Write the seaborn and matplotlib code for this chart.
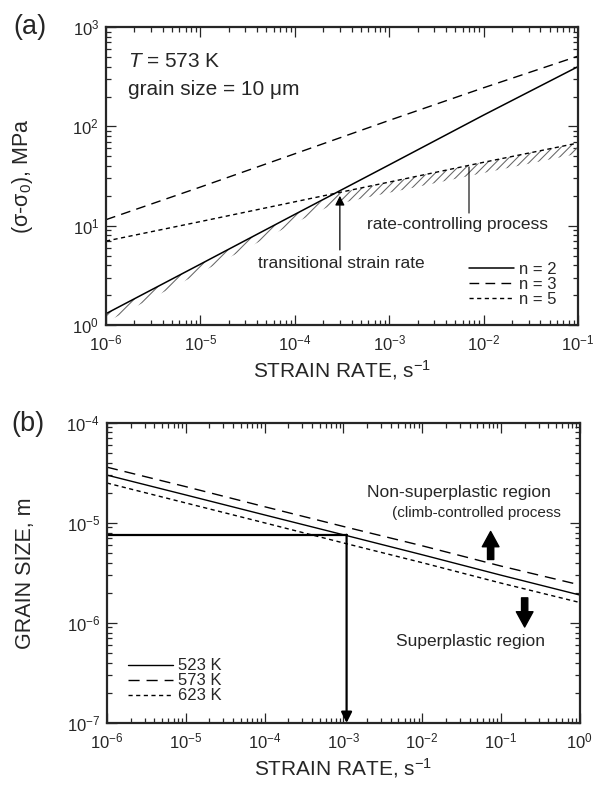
import numpy as np
import matplotlib
matplotlib.use("Agg")
import matplotlib.pyplot as plt
import seaborn as sns

# panel (a): stress vs strain rate at 573 K, d = 10 um
strain_rate_a = [1e-6, 1e-5, 1e-4, 1e-3, 1e-2, 1e-1]
stress_n2 = [1.3, 4.1, 13.0, 41.0, 130.0, 400.0]
stress_n3 = [11.5, 24.5, 53.0, 115.0, 245.0, 510.0]
stress_n5 = [7.0, 11.0, 17.4, 27.5, 43.5, 68.0]
transition_rate = 3.0e-4
transition_stress = 21.5

# panel (b): grain size vs strain rate
strain_rate_b = [1e-6, 1e-5, 1e-4, 1e-3, 1e-2, 1e-1, 1e0]
grain_523 = [3.0e-5, 1.9e-5, 1.2e-5, 7.6e-6, 4.8e-6, 3.0e-6, 1.9e-6]
grain_573 = [3.6e-5, 2.3e-5, 1.45e-5, 9.2e-6, 5.9e-6, 3.7e-6, 2.4e-6]
grain_623 = [2.5e-5, 1.58e-5, 1.0e-5, 6.3e-6, 4.0e-6, 2.5e-6, 1.6e-6]
design_grain_size = 7.6e-6
design_strain_rate = 1.1e-3

sns.set_style("ticks")
plt.rcParams["font.family"] = ["Liberation Sans", "DejaVu Sans"]
plt.rcParams["mathtext.fontset"] = "custom"
plt.rcParams["mathtext.rm"] = "Liberation Sans"
plt.rcParams["mathtext.it"] = "Liberation Sans:italic"
plt.rcParams["mathtext.default"] = "regular"
plt.rcParams["hatch.linewidth"] = 0.75

fig = plt.figure(figsize=(5.94, 7.88), dpi=100)
ax_a = fig.add_axes([0.1785, 0.5876, 0.7946, 0.378])
ax_b = fig.add_axes([0.180, 0.0825, 0.796, 0.381])

long_dash = (0, (7, 4.5))
short_dash = (0, (3, 2.5))

# ---- (a)
sns.lineplot(x=strain_rate_a, y=stress_n2, ax=ax_a, color="k", lw=1.1, label="n = 2")
sns.lineplot(x=strain_rate_a, y=stress_n3, ax=ax_a, color="k", lw=1.0, linestyle=long_dash, label="n = 3")
sns.lineplot(x=strain_rate_a, y=stress_n5, ax=ax_a, color="k", lw=1.0, linestyle=short_dash, label="n = 5")

# hatched band under the lower envelope (rate-controlling process)
left_x = [r for r in strain_rate_a if r < transition_rate] + [transition_rate]
left_y = np.array([s for r, s in zip(strain_rate_a, stress_n2) if r < transition_rate] + [transition_stress])
right_x = [transition_rate] + [r for r in strain_rate_a if r > transition_rate]
right_y = np.array([transition_stress] + [s for r, s in zip(strain_rate_a, stress_n5) if r > transition_rate])
ax_a.fill_between(left_x, left_y / 1.22, left_y, facecolor="none", edgecolor="0.4", hatch="///", linewidth=0)
ax_a.fill_between(right_x, right_y / 1.28, right_y, facecolor="none", edgecolor="0.4", hatch="////", linewidth=0)

ax_a.set(xscale="log", yscale="log", xlim=(1e-6, 1e-1), ylim=(1, 1000))

ax_a.annotate("", xy=(transition_rate, 20), xytext=(transition_rate, 5.7),
              arrowprops=dict(arrowstyle="-|>", color="k", lw=0.9, mutation_scale=14, shrinkA=0, shrinkB=0))
ax_a.annotate("", xy=(7e-3, 39), xytext=(7e-3, 13.4),
              arrowprops=dict(arrowstyle="-", color="k", lw=0.8, shrinkA=0, shrinkB=0))

ax_a.text(0.047, 0.883, r"$\mathit{T}$ = 573 K", transform=ax_a.transAxes, fontsize=15, va="center")
ax_a.text(0.047, 0.789, "grain size = 10 μm", transform=ax_a.transAxes, fontsize=15, va="center")
ax_a.text(0.322, 0.208, "transitional strain rate", transform=ax_a.transAxes, fontsize=12.5, va="center")
ax_a.text(0.553, 0.336, "rate-controlling process", transform=ax_a.transAxes, fontsize=12.5, va="center")

ax_a.legend(loc="lower right", bbox_to_anchor=(0.955, 0.06), frameon=False, fontsize=12,
            handlelength=2.7, handletextpad=0.3, labelspacing=0.0, borderpad=0, borderaxespad=0)

ax_a.set_xlabel("STRAIN RATE, s$^{-1}$", fontsize=15)
ax_a.set_ylabel("(σ-σ$_0$), MPa", fontsize=15.5)
ax_a.xaxis.set_label_coords(0.5, -0.11)
ax_a.yaxis.set_label_coords(-0.15, 0.5)

# ---- (b)
sns.lineplot(x=strain_rate_b, y=grain_523, ax=ax_b, color="k", lw=1.0, label="523 K")
sns.lineplot(x=strain_rate_b, y=grain_573, ax=ax_b, color="k", lw=1.0, linestyle=(0, (8, 5)), label="573 K")
sns.lineplot(x=strain_rate_b, y=grain_623, ax=ax_b, color="k", lw=1.0, linestyle=short_dash, label="623 K")

ax_b.set(xscale="log", yscale="log", xlim=(1e-6, 1e0), ylim=(1e-7, 1e-4))

ax_b.plot([1e-6, design_strain_rate], [design_grain_size, design_grain_size], color="k", lw=1.6)
ax_b.annotate("", xy=(design_strain_rate, 1e-7), xytext=(design_strain_rate, design_grain_size),
              arrowprops=dict(arrowstyle="-|>", color="k", lw=1.6, mutation_scale=16, shrinkA=0, shrinkB=0))

fat = "simple,head_width=1.2,head_length=1.1,tail_width=0.45"
ax_b.annotate("", xy=(7.4e-2, 8.2e-6), xytext=(7.4e-2, 4.3e-6),
              arrowprops=dict(arrowstyle=fat, color="k", mutation_scale=10, shrinkA=0, shrinkB=0))
ax_b.annotate("", xy=(0.2, 9.1e-7), xytext=(0.2, 1.78e-6),
              arrowprops=dict(arrowstyle=fat, color="k", mutation_scale=10, shrinkA=0, shrinkB=0))

ax_b.text(0.55, 0.767, "Non-superplastic region", transform=ax_b.transAxes, fontsize=12.5, va="center")
ax_b.text(0.603, 0.70, "(climb-controlled process", transform=ax_b.transAxes, fontsize=11, va="center")
ax_b.text(0.611, 0.27, "Superplastic region", transform=ax_b.transAxes, fontsize=12.5, va="center")

ax_b.legend(loc="lower left", bbox_to_anchor=(0.045, 0.065), frameon=False, fontsize=12,
            handlelength=2.7, handletextpad=0.3, labelspacing=0.0, borderpad=0, borderaxespad=0)

ax_b.set_xlabel("STRAIN RATE, s$^{-1}$", fontsize=15)
ax_b.set_ylabel("GRAIN SIZE, m", fontsize=15.5)
ax_b.xaxis.set_label_coords(0.5, -0.11)
ax_b.yaxis.set_label_coords(-0.15, 0.5)

for ax in (ax_a, ax_b):
    ax.tick_params(which="both", direction="in", top=True, right=True, labelsize=12, width=0.9)
    ax.tick_params(which="major", length=7)
    ax.tick_params(which="minor", length=3.5)
    ax.tick_params(axis="x", which="major", pad=6)
    ax.tick_params(axis="y", which="major", pad=5)
    for sp in ax.spines.values():
        sp.set_linewidth(1.6)

fig.text(30 / 594, 1 - 27 / 788, "(a)", fontsize=19.5, ha="center", va="center")
fig.text(28 / 594, 1 - 424 / 788, "(b)", fontsize=19.5, ha="center", va="center")

fig.savefig("out.png", dpi=100)
